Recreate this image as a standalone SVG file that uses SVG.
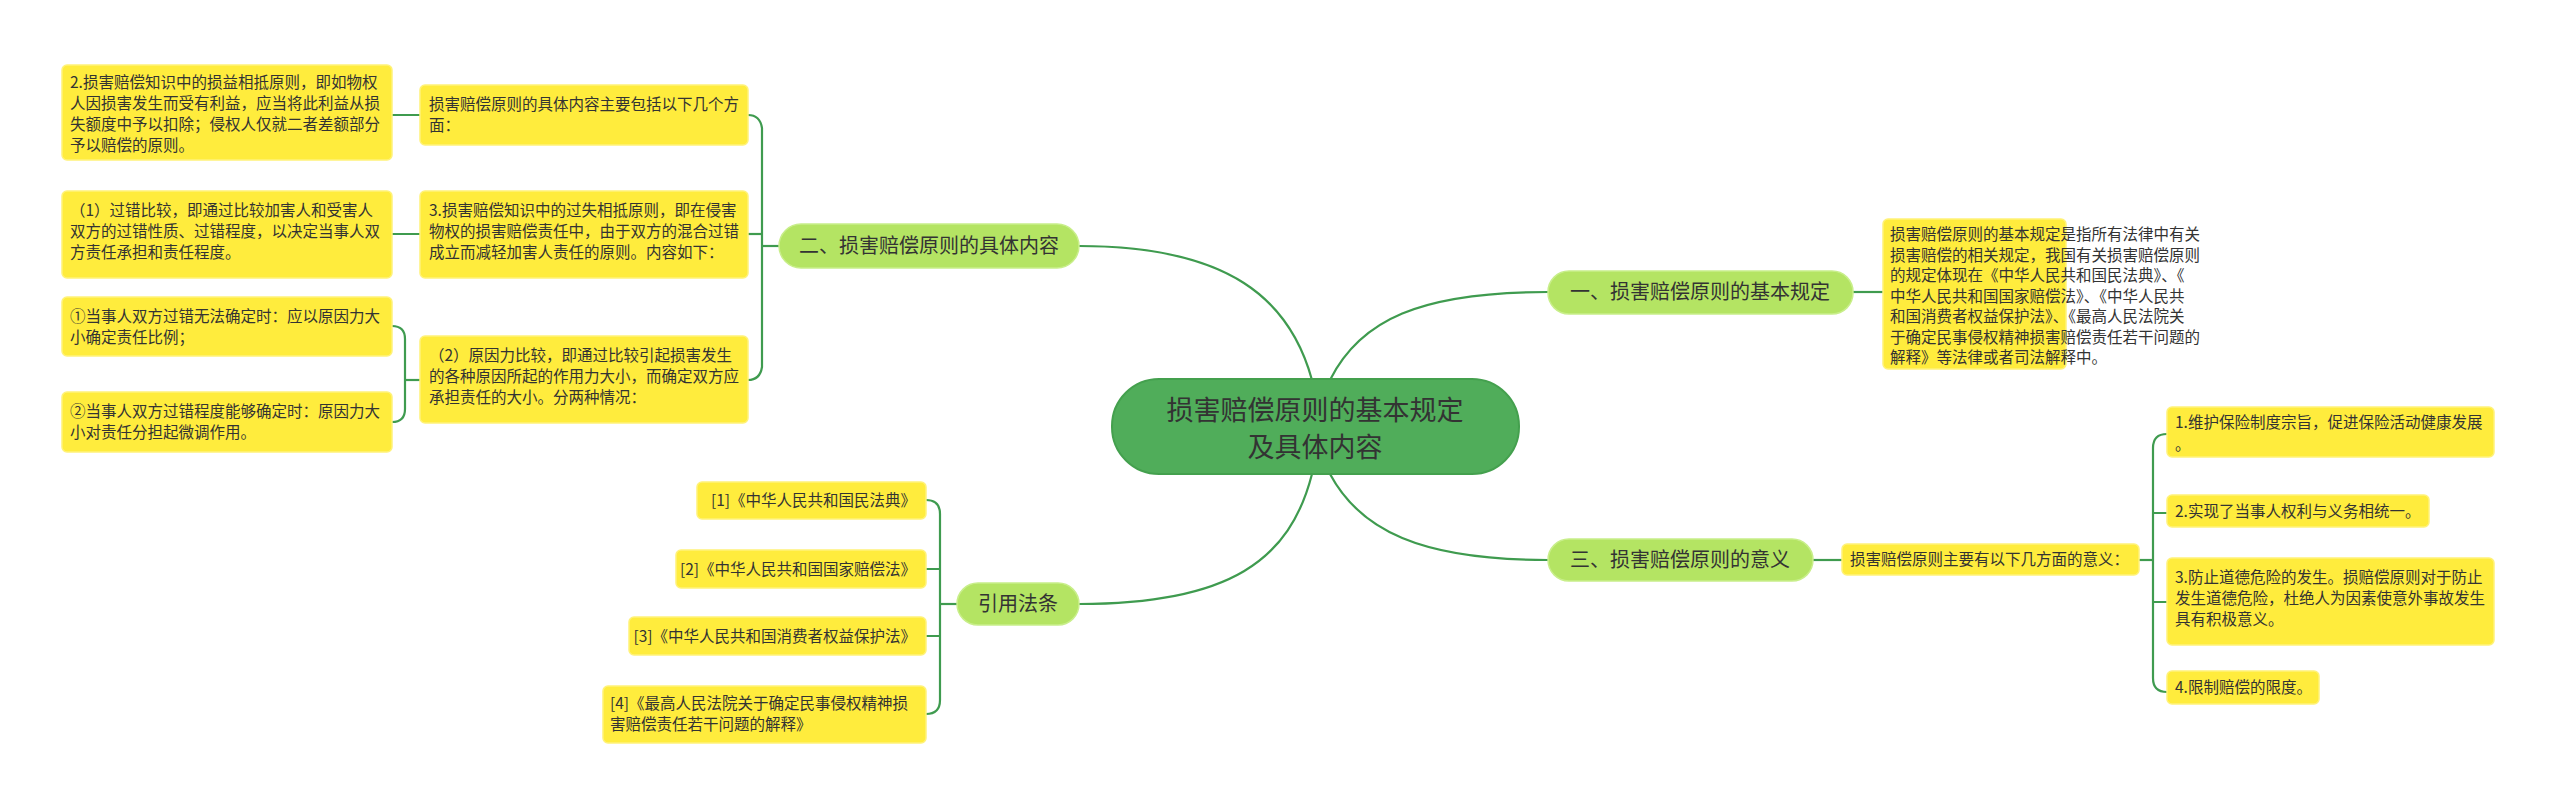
<svg xmlns="http://www.w3.org/2000/svg" width="2560" height="810" viewBox="0 0 2560 810">
<style>
text{font-family:"Noto Sans CJK SC","Liberation Sans",sans-serif;fill:#333}
.leaf{fill:#ffec3d;stroke:#fff27a;stroke-width:1.5}
.br{fill:#b4e463;stroke:#c8ee8a;stroke-width:1.5}
.t{font-size:15.5px}
.b{font-size:20px}
#connectors path{fill:none;stroke:#3f9b4f;stroke-width:2.2}
</style>
<rect width="2560" height="810" fill="#fff"/>
<g id="connectors">
<path d="M1330,380 C1360,320 1420,292 1548,292"/>
<path d="M1312,380 C1290,300 1230,246 1079,246"/>
<path d="M1330,474 C1360,530 1420,560 1548,560"/>
<path d="M1312,474 C1290,560 1230,604 1079,604"/>
<path d="M1853,292 H1883"/>
<path d="M1813,560 H1842"/>
<path d="M2139,560 H2153"/>
<path d="M2167,434 Q2153,434 2153,448 V678 Q2153,692 2167,692"/>
<path d="M2153,513 Q2153,513 2167,513 M2153,602 H2167"/>
<path d="M779,246 H762"/>
<path d="M748,115 Q760,115 762,128 V367 Q760,380 748,380"/>
<path d="M762,234 H748"/>
<path d="M420,115 H392 M420,234 H392"/>
<path d="M420,380 H405"/>
<path d="M392,326 Q405,326 405,339 V409 Q405,422 392,422"/>
<path d="M957,604 H941"/>
<path d="M926,500 Q940,500 940,514 V700 Q940,714 926,714"/>
<path d="M940,569 Q940,569 926,569 M940,636 H926"/>
</g>
<g id="center"><rect x="1112" y="379" width="407" height="95" rx="47" fill="#50ad5a" stroke="#44a04e" stroke-width="2"/>
<text x="1315" y="420" font-size="27" text-anchor="middle">损害赔偿原则的基本规定</text>
<text x="1315" y="457" font-size="27" text-anchor="middle">及具体内容</text></g>
<g id="b1"><rect class="br" x="1548" y="271" width="305" height="43" rx="21"/><text class="b" x="1700" y="299" text-anchor="middle">一、损害赔偿原则的基本规定</text></g>
<g id="b1d"><rect class="leaf" x="1883" y="219" width="183" height="150" rx="5"/>
<text class="t" x="1890" y="240"><tspan x="1890">损害赔偿原则的基本规定是指所有法律中有关</tspan><tspan x="1890" dy="20.5">损害赔偿的相关规定，我国有关损害赔偿原则</tspan><tspan x="1890" dy="20.5">的规定体现在《中华人民共和国民法典》、《</tspan><tspan x="1890" dy="20.5">中华人民共和国国家赔偿法》、《中华人民共</tspan><tspan x="1890" dy="20.5">和国消费者权益保护法》、《最高人民法院关</tspan><tspan x="1890" dy="20.5">于确定民事侵权精神损害赔偿责任若干问题的</tspan><tspan x="1890" dy="20.5">解释》等法律或者司法解释中。</tspan></text></g>
<g id="b3"><rect class="br" x="1548" y="539" width="265" height="42" rx="21"/><text class="b" x="1680" y="567" text-anchor="middle">三、损害赔偿原则的意义</text></g>
<g id="b3d"><rect class="leaf" x="1842" y="544" width="297" height="31" rx="5"/><text class="t" x="1850" y="565">损害赔偿原则主要有以下几方面的意义：</text></g>
<g id="s1"><rect class="leaf" x="2167" y="407" width="327" height="50" rx="5"/><text class="t" x="2175" y="428"><tspan x="2175">1.维护保险制度宗旨，促进保险活动健康发展</tspan><tspan x="2175" dy="22">。</tspan></text></g>
<g id="s2"><rect class="leaf" x="2167" y="495" width="262" height="32" rx="5"/><text class="t" x="2175" y="517">2.实现了当事人权利与义务相统一。</text></g>
<g id="s3"><rect class="leaf" x="2167" y="558" width="327" height="87" rx="5"/><text class="t" x="2175" y="583"><tspan x="2175">3.防止道德危险的发生。损赔偿原则对于防止</tspan><tspan x="2175" dy="21">发生道德危险，杜绝人为因素使意外事故发生</tspan><tspan x="2175" dy="21">具有积极意义。</tspan></text></g>
<g id="s4"><rect class="leaf" x="2167" y="671" width="152" height="33" rx="5"/><text class="t" x="2175" y="693">4.限制赔偿的限度。</text></g>
<g id="b2"><rect class="br" x="779" y="224" width="300" height="44" rx="22"/><text class="b" x="929" y="253" text-anchor="middle">二、损害赔偿原则的具体内容</text></g>
<g id="c1"><rect class="leaf" x="420" y="85" width="328" height="60" rx="5"/><text class="t" x="429" y="110"><tspan x="429">损害赔偿原则的具体内容主要包括以下几个方</tspan><tspan x="429" dy="21">面：</tspan></text></g>
<g id="c2"><rect class="leaf" x="420" y="191" width="328" height="87" rx="5"/><text class="t" x="429" y="216"><tspan x="429">3.损害赔偿知识中的过失相抵原则，即在侵害</tspan><tspan x="429" dy="21">物权的损害赔偿责任中，由于双方的混合过错</tspan><tspan x="429" dy="21">成立而减轻加害人责任的原则。内容如下：</tspan></text></g>
<g id="c3"><rect class="leaf" x="420" y="336" width="328" height="87" rx="5"/><text class="t" x="429" y="361"><tspan x="429">（2）原因力比较，即通过比较引起损害发生</tspan><tspan x="429" dy="21">的各种原因所起的作用力大小，而确定双方应</tspan><tspan x="429" dy="21">承担责任的大小。分两种情况：</tspan></text></g>
<g id="l1"><rect class="leaf" x="62" y="65" width="330" height="95" rx="5"/><text class="t" x="70" y="88"><tspan x="70">2.损害赔偿知识中的损益相抵原则，即如物权</tspan><tspan x="70" dy="21">人因损害发生而受有利益，应当将此利益从损</tspan><tspan x="70" dy="21">失额度中予以扣除；侵权人仅就二者差额部分</tspan><tspan x="70" dy="21">予以赔偿的原则。</tspan></text></g>
<g id="l2"><rect class="leaf" x="62" y="191" width="330" height="87" rx="5"/><text class="t" x="70" y="216"><tspan x="70">（1）过错比较，即通过比较加害人和受害人</tspan><tspan x="70" dy="21">双方的过错性质、过错程度，以决定当事人双</tspan><tspan x="70" dy="21">方责任承担和责任程度。</tspan></text></g>
<g id="l3"><rect class="leaf" x="62" y="297" width="330" height="59" rx="5"/><text class="t" x="70" y="322"><tspan x="70">①当事人双方过错无法确定时：应以原因力大</tspan><tspan x="70" dy="21">小确定责任比例；</tspan></text></g>
<g id="l4"><rect class="leaf" x="62" y="392" width="330" height="60" rx="5"/><text class="t" x="70" y="417"><tspan x="70">②当事人双方过错程度能够确定时：原因力大</tspan><tspan x="70" dy="21">小对责任分担起微调作用。</tspan></text></g>
<g id="b4"><rect class="br" x="957" y="583" width="122" height="42" rx="21"/><text class="b" x="1018" y="611" text-anchor="middle">引用法条</text></g>
<g id="r1"><rect class="leaf" x="697" y="482" width="229" height="37" rx="5"/><text class="t" x="916" y="506" text-anchor="end">[1]《中华人民共和国民法典》</text></g>
<g id="r2"><rect class="leaf" x="676" y="550" width="250" height="38" rx="5"/><text class="t" x="916" y="575" text-anchor="end">[2]《中华人民共和国国家赔偿法》</text></g>
<g id="r3"><rect class="leaf" x="629" y="617" width="297" height="38" rx="5"/><text class="t" x="916" y="642" text-anchor="end">[3]《中华人民共和国消费者权益保护法》</text></g>
<g id="r4"><rect class="leaf" x="603" y="686" width="323" height="57" rx="5"/><text class="t" x="610" y="709"><tspan x="610">[4]《最高人民法院关于确定民事侵权精神损</tspan><tspan x="610" dy="21">害赔偿责任若干问题的解释》</tspan></text></g>
</svg>
